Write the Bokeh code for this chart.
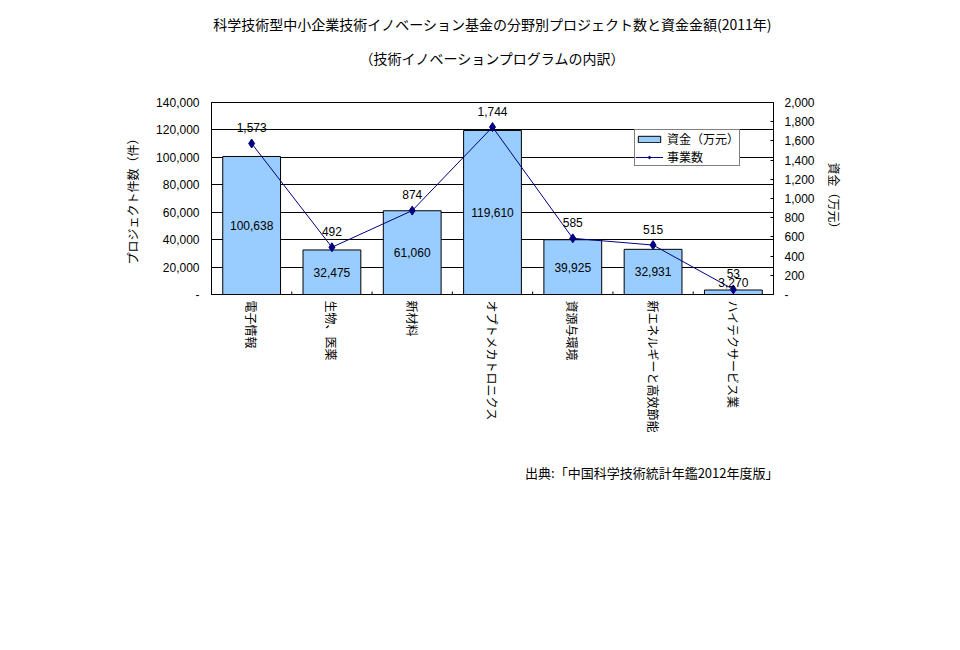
import math
from bokeh.plotting import figure
from bokeh.models import (Range1d, LinearAxis, ColumnDataSource, LabelSet, Title,
                          NumeralTickFormatter, FixedTicker, Legend, LegendItem)
from bokeh.core.properties import value
from bokeh.embed import file_html
from bokeh.resources import INLINE

categories = ["電子情報", "生物、医薬", "新材料", "オプトメカトロニクス",
              "資源与環境", "新エネルギーと高效節能", "ハイテクサービス業"]
funding = [100638, 32475, 61060, 119610, 39925, 32931, 3270]
projects = [1573, 492, 874, 1744, 585, 515, 53]
funding_labels = ["100,638", "32,475", "61,060", "119,610", "39,925", "32,931", "3,270"]
project_labels = ["1,573", "492", "874", "1,744", "585", "515", "53"]
left_ticks = [0, 20000, 40000, 60000, 80000, 100000, 120000, 140000]
right_ticks = [0, 200, 400, 600, 800, 1000, 1200, 1400, 1600, 1800, 2000]

title1 = "科学技術型中小企業技術イノベーション基金の分野別プロジェクト数と資金金額(2011年)"
title2 = "（技術イノベーションプログラムの内訳）"
source_text = "出典:「中国科学技術統計年鑑2012年度版」"

JP = "Noto Sans CJK JP"
NUM = "Liberation Sans"

YMAX = left_ticks[-1]
PLOT_H = 192  # frame height in px

src = ColumnDataSource(dict(
    cat=categories, funding=funding, projects=projects,
    flab=funding_labels, plab=project_labels,
    fy=[max(v / 2, 8700) for v in funding],
))

p = figure(x_range=categories, y_range=Range1d(0, YMAX),
           width=940, height=630, output_backend="svg", toolbar_location=None,
           min_border_left=211, min_border_right=167, min_border_top=102,
           min_border_bottom=336)
p.extra_y_ranges = {"cnt": Range1d(0, right_ticks[-1])}

p.outline_line_color = "black"
p.outline_line_width = 1
p.background_fill_color = "white"
p.border_fill_color = "white"
p.xgrid.visible = False
p.ygrid.grid_line_color = "black"
p.ygrid.grid_line_width = 1
p.ygrid.ticker = FixedTicker(ticks=left_ticks)

bars = p.vbar(x="cat", top="funding", width=0.72, source=src,
              fill_color="#99CCFF", line_color="black", line_width=1)

# category boundary ticks on the x axis (Excel style, pointing inward)
bounds = [(c, 0.5) for c in categories[:-1]]
tick_len = YMAX * 3 / PLOT_H
p.segment(x0=bounds, y0=[0] * len(bounds), x1=bounds, y1=[tick_len] * len(bounds),
          line_color="black", line_width=1)

line = p.line(x="cat", y="projects", source=src, y_range_name="cnt",
              line_color="#000080", line_width=1)
pts = p.scatter(x="cat", y="projects", source=src, y_range_name="cnt",
                marker="diamond", size=9, fill_color="#000080", line_color="#000080")


def style_axis(ax):
    ax.axis_label_text_font = JP
    ax.axis_label_text_font_size = "12px"
    ax.axis_label_text_font_style = "normal"
    ax.axis_label_text_color = "black"
    ax.major_label_text_font = NUM
    ax.major_label_text_font_size = "12px"
    ax.major_label_text_color = "black"
    ax.major_tick_out = 0
    ax.major_tick_in = 3
    ax.minor_tick_out = 0
    ax.minor_tick_in = 0
    ax.axis_line_color = "black"
    ax.major_tick_line_color = "black"


# left axis
ya = p.yaxis[0]
style_axis(ya)
ya.ticker = FixedTicker(ticks=left_ticks)
ya.formatter = NumeralTickFormatter(format="0,0")
ya.major_label_overrides = {0: "-"}
ya.axis_label = "プロジェクト件数（件）"
ya.axis_label_standoff = 12
ya.major_label_standoff = 12

# right axis
ra = LinearAxis(y_range_name="cnt", ticker=FixedTicker(ticks=right_ticks),
                formatter=NumeralTickFormatter(format="0,0"))
style_axis(ra)
ra.major_label_overrides = {0: "-"}
ra.axis_label = "資金（万元）"
ra.axis_label_standoff = 8
ra.major_label_standoff = 11
p.add_layout(ra, "right")

# x axis
xa = p.xaxis[0]
style_axis(xa)
xa.major_label_orientation = -math.pi / 2
xa.major_label_text_font = JP
xa.major_label_standoff = 6
xa.major_tick_in = 0

# data labels
p.add_layout(LabelSet(x="cat", y="fy", text="flab", source=src,
                      text_font=value(NUM), text_font_size="12px", text_color="black",
                      text_align="center", text_baseline="middle"))
p.add_layout(LabelSet(x="cat", y="projects", text="plab", source=src,
                      y_range_name="cnt", y_offset=16,
                      text_font=value(NUM), text_font_size="12px", text_color="black",
                      text_align="center", text_baseline="middle"))

# legend
legend = Legend(items=[LegendItem(label="資金（万元）", renderers=[bars]),
                       LegendItem(label="事業数", renderers=[line, pts])],
                location=(423, 128), border_line_color="black", border_line_width=1,
                background_fill_alpha=1, label_text_font=JP, label_text_font_size="12px",
                label_text_color="black", label_text_line_height=1.0,
                glyph_width=28, glyph_height=8, padding=0, spacing=1, margin=0,
                label_standoff=4, label_height=12)
p.add_layout(legend, "center")

# titles and source
p.title.text = title1
p.title.align = "center"
p.title.text_font = JP
p.title.text_font_size = "14px"
p.title.text_font_style = "normal"
p.title.text_color = "black"
p.title.standoff = -46
p.add_layout(Title(text=title2, align="center", text_font=JP,
                   text_font_size="14px", text_font_style="normal", text_color="black",
                   standoff=70), "above")
p.add_layout(Title(text=source_text, align="right", text_font=JP, text_font_size="13px",
                   text_font_style="normal", text_color="black", standoff=50,
                   offset=-5), "below")

open("out.html", "w").write(file_html(p, INLINE))
